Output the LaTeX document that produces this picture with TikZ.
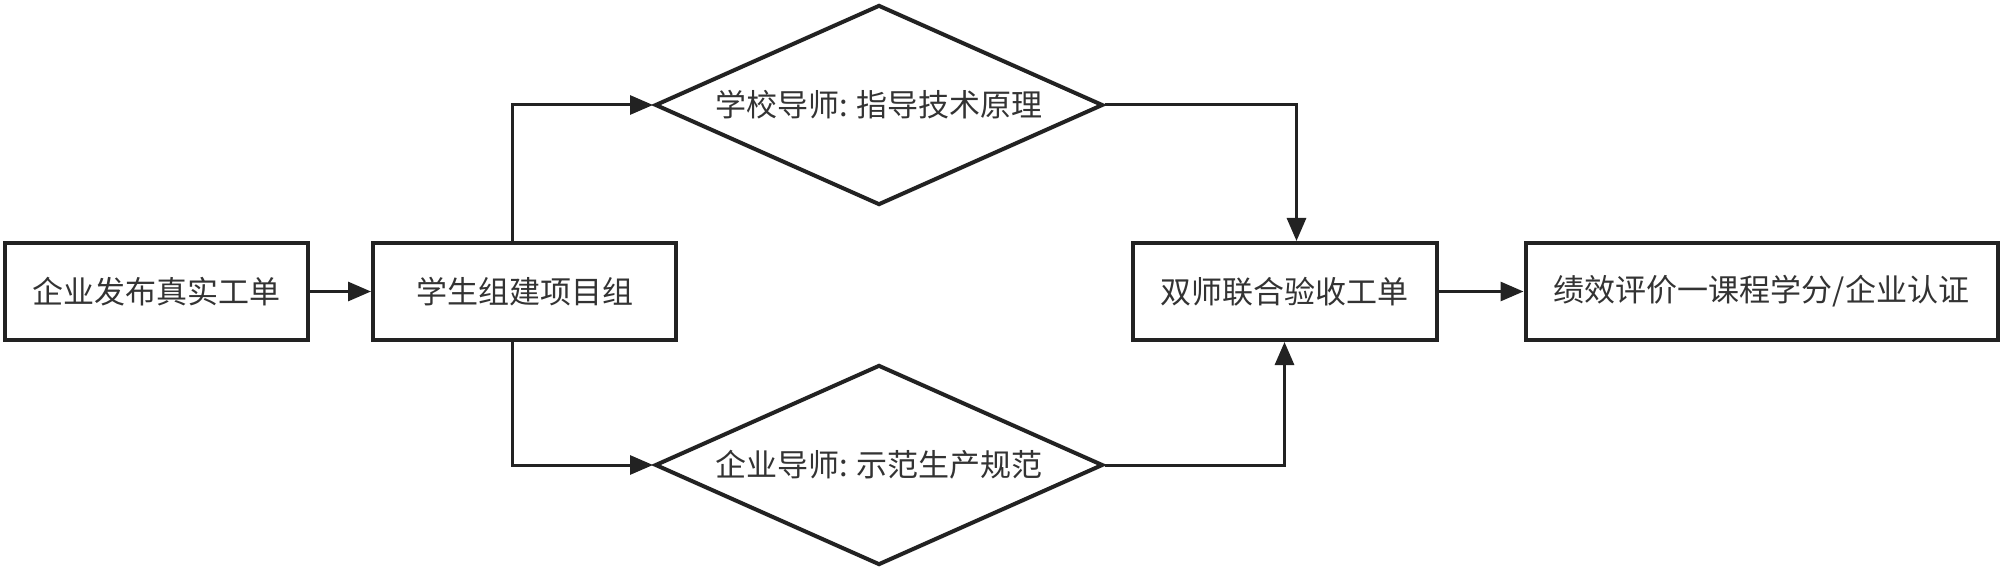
\documentclass[tikz,border=0pt]{standalone}
\usepackage{fontspec}
\newfontfamily\cjk{Noto Sans CJK SC}
\usetikzlibrary{shapes.geometric,arrows.meta}
\definecolor{ink}{HTML}{222222}
\definecolor{txt}{HTML}{333333}
\begin{document}
\begin{tikzpicture}[x=1pt,y=-1pt,
  every node/.style={font=\cjk\fontsize{31}{37}\selectfont, text=txt},
  boxnode/.style={draw=ink, line width=4pt, rectangle, minimum height=97pt, inner sep=0pt, fill=white},
  dianode/.style={draw=ink, line width=4pt, diamond, aspect=2.24, minimum width=448pt, minimum height=200pt, inner sep=0pt, fill=white},
  arr/.style={draw=ink, line width=3pt, -{Triangle[length=23pt,width=19pt]}}]
\useasboundingbox (0,0) rectangle (2000,572);
\fill[white] (0,0) rectangle (2000,572);
\node[boxnode, minimum width=303pt] (b1) at (156.5,291.5) {企业发布真实工单};
\node[boxnode, minimum width=303pt] (b2) at (524.5,291.5) {学生组建项目组};
\node[dianode] (d1) at (879,105) {学校导师: 指导技术原理};
\node[dianode] (d2) at (879,465) {企业导师: 示范生产规范};
\node[boxnode, minimum width=304pt] (b3) at (1284.5,291.5) {双师联合验收工单};
\node[boxnode, minimum width=472pt] (b4) at (1761.5,291.5) {绩效评价一课程学分/企业认证};
\draw[arr] (b1) -- (b2);
\draw[arr] ([xshift=-12.5pt]b2.north) |- (d1.west);
\draw[arr] ([xshift=-12.5pt]b2.south) |- (d2.west);
\draw[arr] (d1.east) -| ([xshift=12pt]b3.north);
\draw[arr] (d2.east) -| (b3.south);
\draw[arr] (b3) -- (b4);
\end{tikzpicture}
\end{document}
